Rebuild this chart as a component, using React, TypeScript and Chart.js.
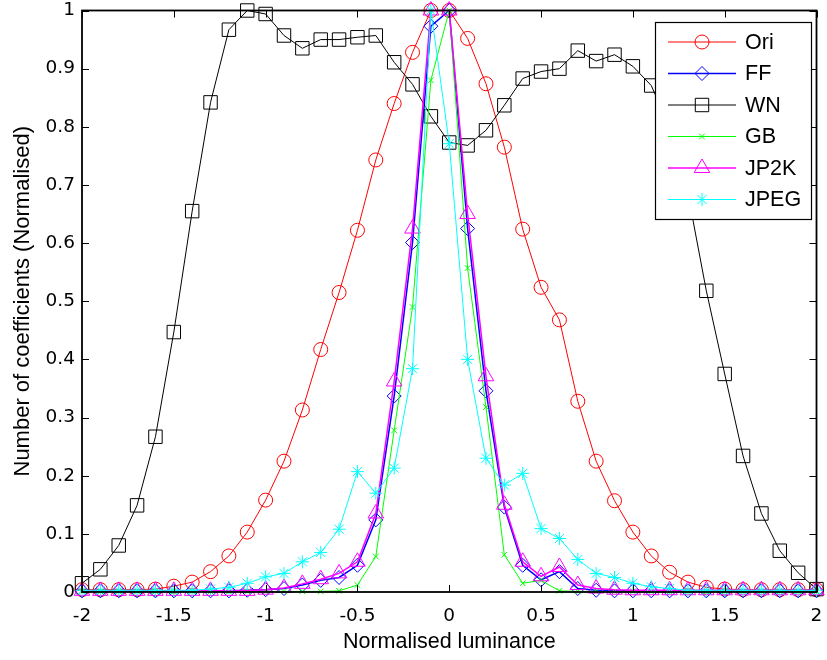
import React, { useEffect, useRef } from 'react';
import { Chart, registerables } from 'chart.js';
import { drawPoint } from 'chart.js/helpers';

Chart.register(...registerables);

const X_VALUES = [
  -2, -1.9, -1.8, -1.7, -1.6, -1.5, -1.4, -1.3, -1.2, -1.1,
  -1, -0.9, -0.8, -0.7, -0.6, -0.5, -0.4, -0.3, -0.2, -0.1,
  0, 0.1, 0.2, 0.3, 0.4, 0.5, 0.6, 0.7, 0.8, 0.9,
  1, 1.1, 1.2, 1.3, 1.4, 1.5, 1.6, 1.7, 1.8, 1.9, 2,
];
const X_TICKS = [-2, -1.5, -1, -0.5, 0, 0.5, 1, 1.5, 2];
const Y_TICKS = [0, 0.1, 0.2, 0.3, 0.4, 0.5, 0.6, 0.7, 0.8, 0.9, 1];

const ORI = [
  0.004, 0.004, 0.004, 0.004, 0.005, 0.010, 0.017, 0.035, 0.062, 0.103,
  0.158, 0.225, 0.313, 0.417, 0.515, 0.622, 0.743, 0.840, 0.928, 1.0,
  1.0, 0.952, 0.874, 0.765, 0.624, 0.524, 0.468, 0.328, 0.225, 0.157,
  0.103, 0.062, 0.034, 0.017, 0.008, 0.005, 0.004, 0.004, 0.004, 0.004, 0.004,
];
const FF = [
  0.002, 0.002, 0.002, 0.002, 0.002, 0.002, 0.002, 0.002, 0.002, 0.003,
  0.004, 0.006, 0.012, 0.020, 0.025, 0.046, 0.124, 0.337, 0.601, 0.973,
  1.0, 0.625, 0.346, 0.146, 0.046, 0.021, 0.035, 0.006, 0.003, 0.002,
  0.002, 0.002, 0.002, 0.002, 0.002, 0.002, 0.002, 0.002, 0.002, 0.002, 0.002,
];
const WN = [
  0.015, 0.039, 0.080, 0.149, 0.267, 0.447, 0.655, 0.842, 0.967, 1.0,
  0.994, 0.957, 0.935, 0.950, 0.950, 0.954, 0.957, 0.911, 0.873, 0.818,
  0.773, 0.768, 0.794, 0.837, 0.883, 0.895, 0.900, 0.931, 0.913, 0.924,
  0.904, 0.871, 0.800, 0.685, 0.518, 0.375, 0.234, 0.135, 0.071, 0.033, 0.005,
];
const GB = [
  0.001, 0.001, 0.001, 0.001, 0.001, 0.001, 0.001, 0.001, 0.001, 0.001,
  0.001, 0.001, 0.001, 0.001, 0.002, 0.012, 0.061, 0.278, 0.490, 0.880,
  1.0, 0.557, 0.318, 0.064, 0.015, 0.020, 0.002, 0.001, 0.001, 0.001,
  0.001, 0.001, 0.001, 0.001, 0.001, 0.001, 0.001, 0.001, 0.001, 0.001, 0.001,
];
const JP2K = [
  0.002, 0.002, 0.002, 0.002, 0.002, 0.002, 0.002, 0.002, 0.002, 0.002,
  0.004, 0.007, 0.014, 0.022, 0.032, 0.052, 0.135, 0.362, 0.625, 1.0,
  1.0, 0.650, 0.371, 0.150, 0.052, 0.027, 0.043, 0.012, 0.006, 0.004,
  0.003, 0.003, 0.003, 0.003, 0.003, 0.003, 0.003, 0.003, 0.003, 0.003, 0.003,
];
const JPEG = [
  0.003, 0.003, 0.003, 0.003, 0.003, 0.003, 0.003, 0.005, 0.008, 0.015,
  0.026, 0.032, 0.052, 0.068, 0.108, 0.207, 0.170, 0.213, 0.384, 1.0,
  0.771, 0.400, 0.230, 0.184, 0.204, 0.109, 0.092, 0.056, 0.032, 0.025,
  0.015, 0.009, 0.006, 0.003, 0.003, 0.003, 0.003, 0.003, 0.003, 0.003, 0.003,
];

const SERIES_NAMES = ['Ori', 'FF', 'WN', 'GB', 'JP2K', 'JPEG'];
const SERIES_VALUES = [ORI, FF, WN, GB, JP2K, JPEG];
const SERIES_COLORS = ['#ff0000', '#0000ff', '#000000', '#00ff00', '#ff00ff', '#00ffff'];
const SERIES_MARKERS = ['circle', 'rectRot', 'rect', 'crossRot', 'triangle', 'star'];
const SERIES_RADII = [7, 7, 9.5, 4, 9, 6.5];
const SERIES_LINE_WIDTHS = [1, 1.5, 1, 1, 1.5, 1];

const X_TITLE = 'Normalised luminance';
const Y_TITLE = 'Number of coefficients (Normalised)';

const TEXT_FONT = '"Liberation Sans", Arial, sans-serif';
const TICK_FONT = '"DejaVu Sans", sans-serif';

const decorPlugin = {
  id: 'matlabDecor',
  afterDatasetsDraw(chart: any) {
    const { ctx, chartArea: a, scales } = chart;
    ctx.save();
    // box
    ctx.strokeStyle = '#000';
    ctx.lineWidth = 1.8;
    ctx.strokeRect(a.left, a.top, a.right - a.left, a.bottom - a.top);
    // inward ticks
    ctx.lineWidth = 1;
    const tl = 7;
    const seg = (x1: number, y1: number, x2: number, y2: number) => {
      ctx.beginPath();
      ctx.moveTo(x1, y1);
      ctx.lineTo(x2, y2);
      ctx.stroke();
    };
    for (const t of X_TICKS) {
      const px = Math.round(scales.x.getPixelForValue(t)) + 0.5;
      seg(px, a.bottom, px, a.bottom - tl);
      seg(px, a.top, px, a.top + tl);
    }
    for (const t of Y_TICKS) {
      const py = Math.round(scales.y.getPixelForValue(t)) + 0.5;
      seg(a.left, py, a.left + tl, py);
      seg(a.right, py, a.right - tl, py);
    }

    // axis titles
    ctx.fillStyle = '#000';
    ctx.font = `21.5px ${TEXT_FONT}`;
    ctx.textAlign = 'center';
    ctx.textBaseline = 'alphabetic';
    ctx.fillText(X_TITLE, (a.left + a.right) / 2, 648);
    ctx.save();
    ctx.translate(29, (a.top + a.bottom) / 2);
    ctx.rotate(-Math.PI / 2);
    ctx.font = `22px ${TEXT_FONT}`;
    ctx.fillText(Y_TITLE, 0, 0);
    ctx.restore();

    // legend
    const lx = 655, ly = 22, lw = 156, lh = 197;
    ctx.fillStyle = '#fff';
    ctx.fillRect(lx, ly, lw, lh);
    ctx.strokeStyle = '#000';
    ctx.lineWidth = 1.2;
    ctx.strokeRect(lx + 0.5, ly + 0.5, lw, lh);
    SERIES_NAMES.forEach((name, i) => {
      const cy = 42 + i * 31.5;
      ctx.strokeStyle = SERIES_COLORS[i];
      ctx.lineWidth = SERIES_LINE_WIDTHS[i];
      ctx.beginPath();
      ctx.moveTo(668, cy);
      ctx.lineTo(736, cy);
      ctx.stroke();
      ctx.lineWidth = 1;
      ctx.fillStyle = 'rgba(0,0,0,0)';
      drawPoint(ctx, { pointStyle: SERIES_MARKERS[i], radius: SERIES_RADII[i], rotation: 0, borderWidth: 1 } as any, 702, cy);
      ctx.fillStyle = '#000';
      ctx.font = `21.5px ${TEXT_FONT}`;
      ctx.textAlign = 'left';
      ctx.textBaseline = 'middle';
      ctx.fillText(name, 745, cy + 1);
    });
    ctx.restore();
  },
};

export default function App() {
  const canvasRef = useRef<HTMLCanvasElement | null>(null);

  useEffect(() => {
    document.body.style.margin = '0';
    const canvas = canvasRef.current;
    if (!canvas) return;

    const datasets = SERIES_NAMES.map((name, i) => ({
      label: name,
      data: X_VALUES.map((x, j) => ({ x, y: SERIES_VALUES[i][j] })),
      borderColor: SERIES_COLORS[i],
      backgroundColor: SERIES_COLORS[i],
      borderWidth: SERIES_LINE_WIDTHS[i],
      pointStyle: SERIES_MARKERS[i],
      pointRadius: SERIES_RADII[i],
      pointBorderColor: SERIES_COLORS[i],
      pointBackgroundColor: 'rgba(0,0,0,0)',
      pointBorderWidth: 1,
      tension: 0,
      clip: false as any,
      order: SERIES_NAMES.length - i,
    }));

    const chart = new Chart(canvas, {
      type: 'line',
      data: { datasets },
      options: {
        responsive: false,
        animation: false,
        devicePixelRatio: 1,
        layout: { padding: { left: 0, right: 5, top: 10, bottom: 0 } },
        plugins: { legend: { display: false }, tooltip: { enabled: false } },
        scales: {
          x: {
            type: 'linear',
            min: -2,
            max: 2,
            border: { display: false },
            grid: { display: false, drawTicks: false },
            afterBuildTicks: (s: any) => { s.ticks = X_TICKS.map((v) => ({ value: v })); },
            afterFit: (s: any) => { s.height = 68; s.paddingLeft = 0; s.paddingRight = 0; },
            ticks: {
              font: { family: TICK_FONT, size: 18.5 },
              color: '#000',
              padding: 13,
              maxRotation: 0,
              autoSkip: false,
              callback: (v: any) => String(v),
            },
          },
          y: {
            type: 'linear',
            min: 0,
            max: 1,
            border: { display: false },
            grid: { display: false, drawTicks: false },
            afterBuildTicks: (s: any) => { s.ticks = Y_TICKS.map((v) => ({ value: v })); },
            afterFit: (s: any) => { s.width = 82; s.paddingTop = 0; s.paddingBottom = 0; },
            ticks: {
              font: { family: TICK_FONT, size: 18.5 },
              color: '#000',
              padding: 7,
              autoSkip: false,
              callback: (v: any) => String(v),
            },
          },
        },
      },
      plugins: [decorPlugin],
    });

    return () => chart.destroy();
  }, []);

  return (
    <div style={{ width: 827, height: 660, background: '#fff' }}>
      <canvas ref={canvasRef} width={827} height={660} style={{ display: 'block' }} />
    </div>
  );
}
